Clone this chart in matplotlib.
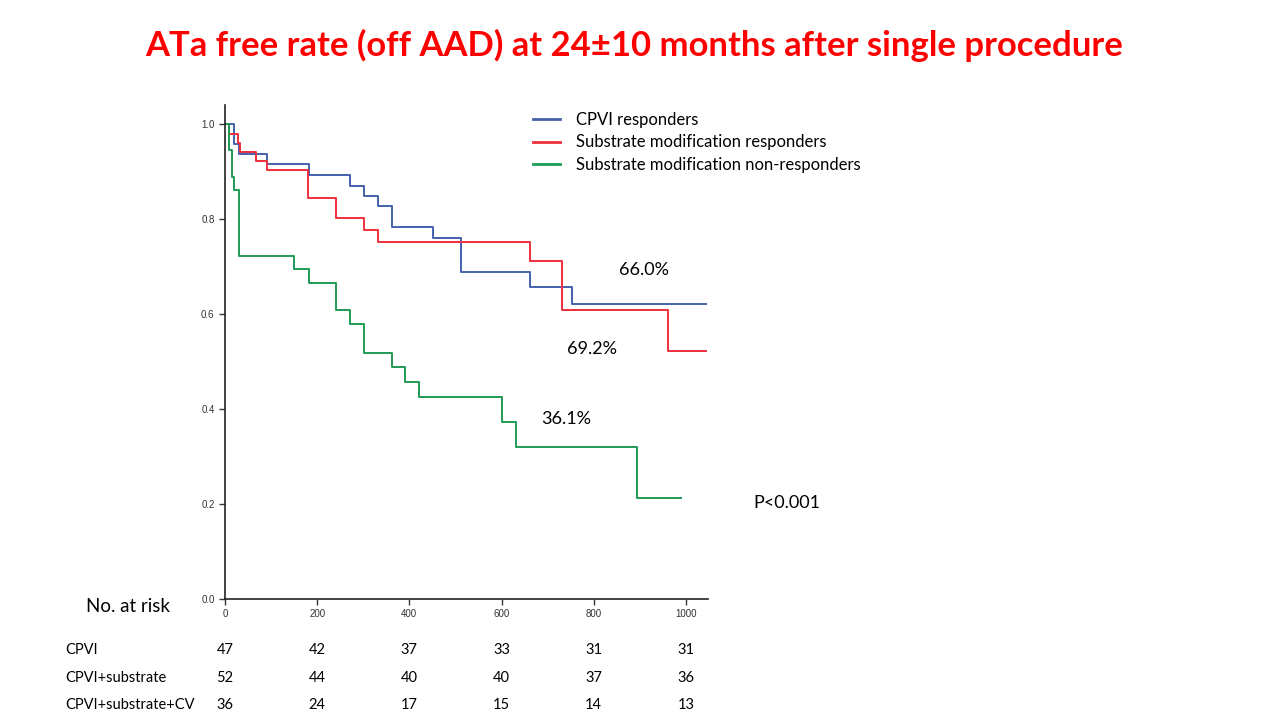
import matplotlib
matplotlib.use("Agg")
import matplotlib.pyplot as plt
import matplotlib.transforms as mtransforms

# Kaplan-Meier steps (event day, survival after it)
cpvi_days = [0, 20, 31, 92, 182, 272, 301, 331, 362, 451, 511, 661, 752]
cpvi_surv = [1.0, 0.957, 0.936, 0.915, 0.893, 0.870, 0.849, 0.828, 0.783, 0.761, 0.688, 0.657, 0.621]
cpvi_end = 1043

sub_days = [0, 9, 28, 33, 67, 92, 180, 241, 302, 331, 661, 732, 962]
sub_surv = [1.0, 0.980, 0.959, 0.942, 0.922, 0.903, 0.845, 0.803, 0.777, 0.752, 0.712, 0.609, 0.522]
sub_end = 1043

non_days = [0, 9, 15, 20, 30, 150, 182, 241, 271, 302, 362, 391, 421, 600, 631, 894]
non_surv = [1.0, 0.945, 0.889, 0.861, 0.722, 0.694, 0.666, 0.608, 0.579, 0.517, 0.488, 0.457, 0.426, 0.372, 0.319, 0.213]
non_end = 989

series_names = ["CPVI responders", "Substrate modification responders",
                "Substrate modification non-responders"]
series_colors = ["#4561ad", "#ee2f3b", "#1f9a55"]

# number at risk table
risk_times = [0, 200, 400, 600, 800, 1000]
risk_groups = ["CPVI", "CPVI+substrate", "CPVI+substrate+CV"]
risk_counts = [
    [47, 42, 37, 33, 31, 31],
    [52, 44, 40, 40, 37, 36],
    [36, 24, 17, 15, 14, 13],
]

pct_labels = ["66.0%", "69.2%", "36.1%"]

plt.rcParams['font.family'] = ['Lato', 'DejaVu Sans']

fig = plt.figure(figsize=(12.8, 7.2), dpi=100)
ax = fig.add_axes([225 / 1280, 1 - 599 / 720, 483 / 1280, 494 / 720])

curves = [(cpvi_days, cpvi_surv, cpvi_end),
          (sub_days, sub_surv, sub_end),
          (non_days, non_surv, non_end)]
for (d, s, end), name, col in zip(curves, series_names, series_colors):
    ax.step(d + [end], s + [s[-1]], where="post", color=col, lw=1.4, label=name)

ax.set_xlim(0, 1048)
ax.set_ylim(0, 1.04)
ax.set_xticks(risk_times)
ax.set_yticks([0.0, 0.2, 0.4, 0.6, 0.8, 1.0])
ax.set_yticklabels(["0.0", "0.2", "0.4", "0.6", "0.8", "1.0"])
for side in ["top", "right"]:
    ax.spines[side].set_visible(False)
for side in ["left", "bottom"]:
    ax.spines[side].set_linewidth(1.2)
    ax.spines[side].set_color("#222222")
ax.tick_params(labelsize=7, colors="#333333", length=4, width=1.0,
               labelfontfamily="Liberation Sans")

leg = ax.legend(loc="upper left", bbox_to_anchor=(533 / 1280, 1 - 112 / 720),
                bbox_transform=fig.transFigure, frameon=False, borderpad=0,
                borderaxespad=0, fontsize=12, handlelength=1.6,
                handletextpad=0.95, labelspacing=0.38)
for line in leg.get_lines():
    line.set_linewidth(2)

# percentage annotations and p value
fig.text(644 / 1280, 1 - 270 / 720, pct_labels[0], ha="center", va="center", fontsize=13)
fig.text(592 / 1280, 1 - 349 / 720, pct_labels[1], ha="center", va="center", fontsize=13)
fig.text(566 / 1280, 1 - 419 / 720, pct_labels[2], ha="center", va="center", fontsize=13)
fig.text(787 / 1280, 1 - 503 / 720, "P<0.001", ha="center", va="center", fontsize=13)

fig.text(634 / 1280, 1 - 45 / 720,
         "ATa free rate (off AAD) at 24\u00b110 months after single procedure",
         ha="center", va="center", fontsize=24.9, fontweight="bold", color="#ff0000")

# risk table
fig.text(86 / 1280, 1 - 607 / 720, "No. at risk", ha="left", va="center", fontsize=13.5)
blend = mtransforms.blended_transform_factory(ax.transData, fig.transFigure)
row_y = [650, 678, 705]
for grp, counts, yy in zip(risk_groups, risk_counts, row_y):
    fig.text(65 / 1280, 1 - yy / 720, grp, ha="left", va="center", fontsize=10.5)
    for t, c in zip(risk_times, counts):
        ax.text(t, 1 - yy / 720, str(c), transform=blend, ha="center", va="center",
                fontsize=10.5, clip_on=False)

fig.savefig("out.png", dpi=100)
